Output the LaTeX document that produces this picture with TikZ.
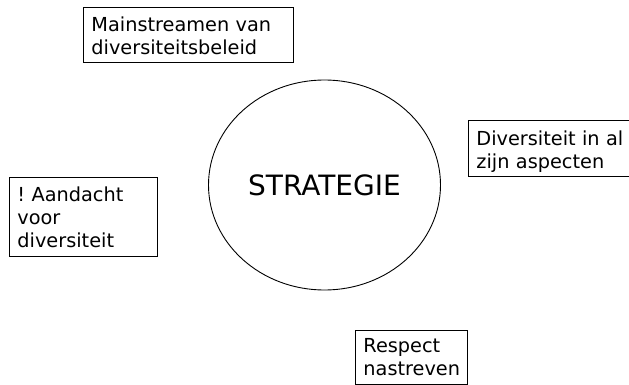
\documentclass[tikz,border=0pt]{standalone}
\usepackage{fontspec}
\setmainfont{DejaVu Sans}
\usetikzlibrary{shapes.geometric}
% invisible struts fixing the first baseline and the bottom padding of a box
\newcommand{\bxtop}[1]{\rule{0pt}{#1pt}}
\newcommand{\bxbot}[1]{\rule[-#1pt]{0pt}{#1pt}}
\begin{document}
\frenchspacing
\begin{tikzpicture}[x=1pt,y=-1pt,
  every node/.style={line width=0.9pt},
  textbox/.style={draw=black, rectangle, anchor=north west, align=left,
    inner xsep=8pt, inner ysep=0pt,
    font=\fontsize{19.3}{23}\selectfont},
  core/.style={draw=black, ellipse, inner sep=0pt,
    minimum width=232pt, minimum height=210pt,
    font=\fontsize{28}{30}\selectfont}]
  \useasboundingbox (0,0) rectangle (629,385);
  % central strategy ellipse
  \node[core] (strat) at (324.5,185) {STRATEGIE};
  % surrounding text boxes
  \node[textbox, text width=194pt]
    (main) at (83,7) {\bxtop{24.5}Mainstreamen van\\diversiteitsbeleid\bxbot{7.5}};
  \node[textbox, text width=164pt]
    (aspect) at (468,120) {\bxtop{25}Diversiteit in al\\zijn aspecten\bxbot{8}};
  \node[textbox, text width=132pt]
    (aandacht) at (9,177) {\bxtop{24}! Aandacht\\voor\\diversiteit\bxbot{9}};
  \node[textbox, text width=96pt]
    (respect) at (355,330) {\bxtop{22}Respect\\nastreven\bxbot{9}};
\end{tikzpicture}
\end{document}
